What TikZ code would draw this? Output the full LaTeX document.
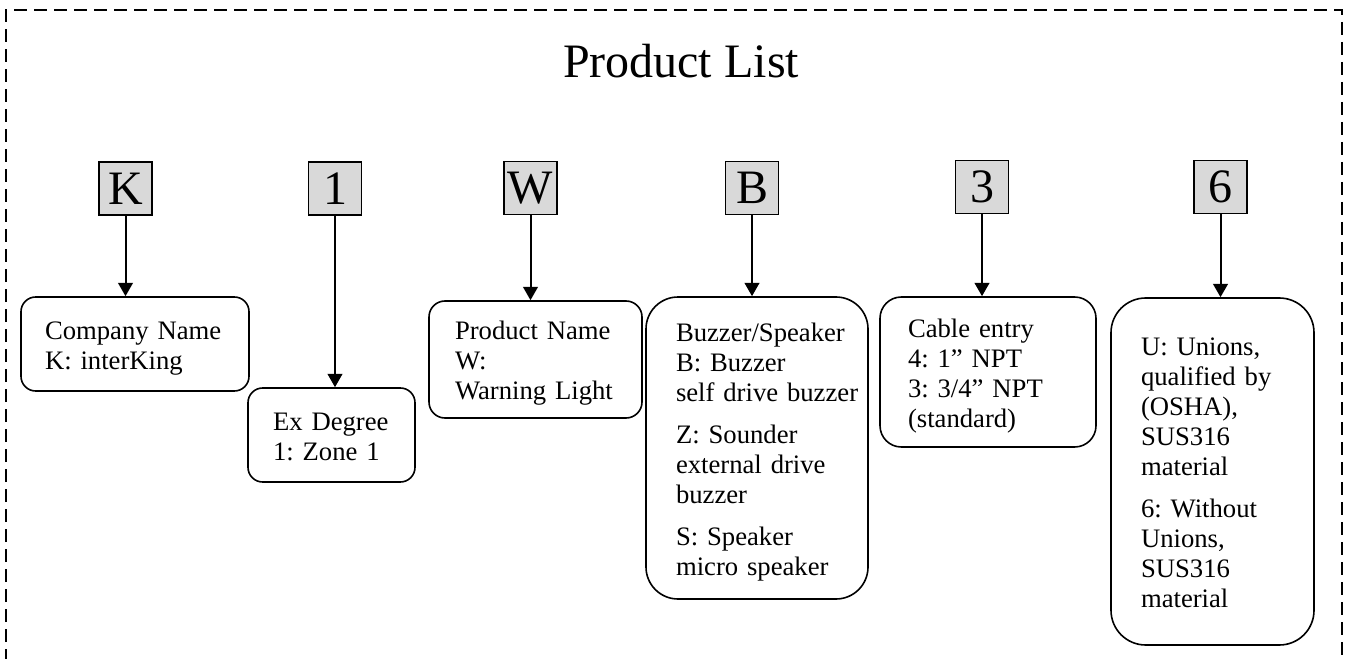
\documentclass[tikz,border=0pt]{standalone}
\usepackage{fontspec}
\setmainfont{Liberation Serif}
\usetikzlibrary{arrows.meta}
\definecolor{keygray}{HTML}{D9D9D9}
\hyphenpenalty=10000
\exhyphenpenalty=10000
\begin{document}
\begin{tikzpicture}[x=0.75pt,y=-0.75pt,
  frame/.style={line width=1.3pt, dash pattern=on 10pt off 5pt},
  keybox/.style={draw, line width=1.2pt, fill=keygray, minimum size=39.75pt, inner sep=0pt,
    font=\fontsize{36pt}{40pt}\selectfont},
  infobox/.style={draw, line width=1.2pt, align=left, inner ysep=0pt,
    font=\fontsize{20pt}{22.5pt}\selectfont,
    execute at begin node={\vrule width 0pt height 19.5pt depth 0pt\relax},
    execute at end node={\vrule width 0pt height 0pt depth 4.5pt\relax}},
  conn/.style={line width=1.5pt, -{Triangle[length=10pt,width=11pt]}}]
\useasboundingbox (0,0) rectangle (1352,659);
\draw[frame] (6,662) -- (6,10) -- (1342,10) -- (1342,662);

\node[anchor=base, font=\fontsize{36pt}{40pt}\selectfont] (title) at (681,78) {Product List};

\node[keybox] (kK) at (125.5,188.5) {K};
\node[keybox] (k1) at (335,188.5) {1};
\node[keybox] (kW) at (530.5,188) {W};
\node[keybox] (kB) at (752,188) {B};
\node[keybox] (k3) at (982,187) {3};
\node[keybox] (k6) at (1220.5,187) {6};

\node[infobox, rounded corners=11pt, minimum width=171pt, minimum height=70.5pt,
  text width=135pt, inner xsep=18pt] (company) at (135,344)
  {Company~Name\\K:~interKing};
\node[infobox, rounded corners=11pt, minimum width=125.25pt, minimum height=70.5pt,
  text width=87.75pt, inner xsep=18.75pt] (exdeg) at (331.5,435)
  {Ex~Degree\\1:~Zone~1};
\node[infobox, rounded corners=12pt, minimum width=159.75pt, minimum height=87.75pt,
  text width=120.75pt, inner xsep=19.5pt] (pname) at (535.5,359.5)
  {Product~Name\\W:\\Warning~Light};
\node[infobox, rounded corners=24pt, minimum width=166.5pt, minimum height=226.5pt,
  text width=121.5pt, inner xsep=22.5pt] (buzz) at (757,448)
  {Buzzer/Speaker\\B:~Buzzer\\self~drive~buzzer\\[9pt]Z:~Sounder\\external~drive\\buzzer\\[9pt]S:~Speaker\\micro~speaker};
\node[infobox, rounded corners=16pt, minimum width=162pt, minimum height=112.5pt,
  text width=120pt, inner xsep=21pt] (cable) at (988,372)
  {Cable~entry\\4:~1”~NPT\\3:~3/4”~NPT\\(standard)};
\node[infobox, rounded corners=26pt, minimum width=152.25pt, minimum height=260.25pt,
  text width=107.25pt, inner xsep=22.5pt] (unions) at (1212.5,471.5)
  {U:~Unions,\\qualified~by\\(OSHA),\\SUS316\\material\\[9pt]6:~Without\\Unions,\\SUS316\\material};

\draw[conn] (kK.south) -- (kK.south |- company.north);
\draw[conn] (k1.south) -- (k1.south |- exdeg.north);
\draw[conn] (kW.south) -- (kW.south |- pname.north);
\draw[conn] (kB.south) -- (kB.south |- buzz.north);
\draw[conn] (k3.south) -- (k3.south |- cable.north);
\draw[conn] (k6.south) -- (k6.south |- unions.north);
\end{tikzpicture}
\end{document}
